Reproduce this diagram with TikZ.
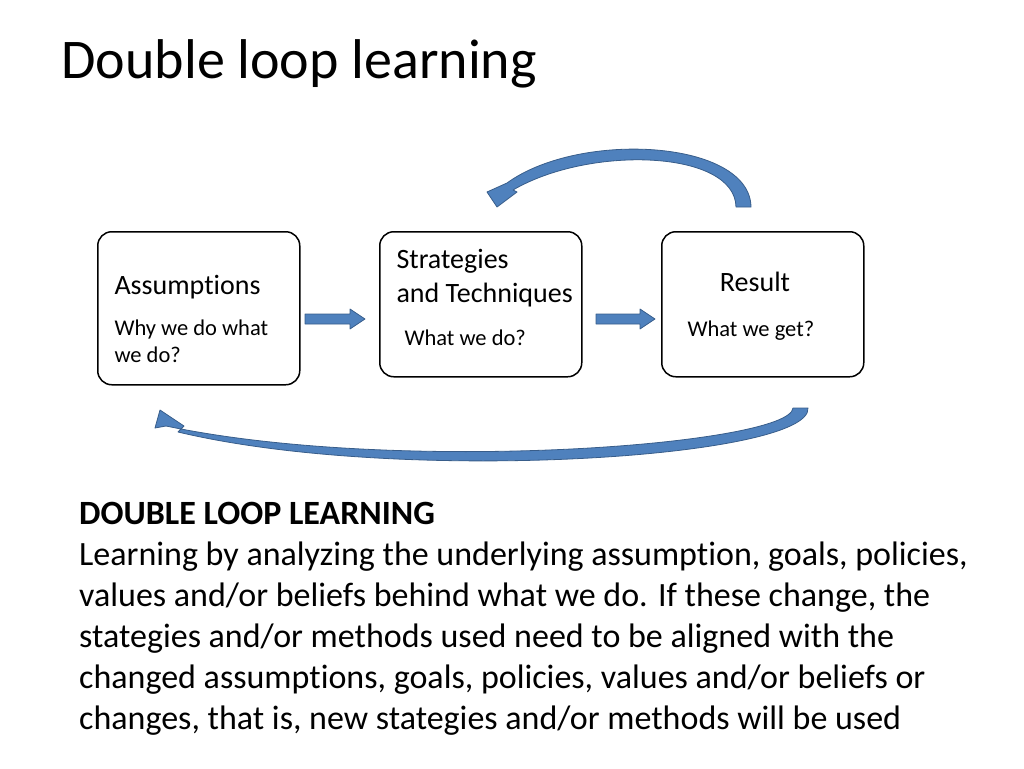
\documentclass[tikz,border=0pt]{standalone}
\usepackage{fontspec}
\setmainfont{Carlito}[Ligatures={NoCommon}]
\definecolor{arrowfill}{RGB}{79,129,189}
\definecolor{arrowline}{RGB}{56,93,138}
\begin{document}
\begin{tikzpicture}[
  x=1pt, y=-1pt,
  stagebox/.style={draw, line width=1.5pt, rounded corners=14pt, minimum width=202pt, anchor=north west},
  blockarrow/.style={fill=arrowfill, draw=arrowline, line width=0.8pt, line join=round}
]
\useasboundingbox (0,0) rectangle (1024,768);
\node [anchor=west, font=\fontsize{56}{60}\selectfont] (title) at (58,64) {Double loop learning};

\node [stagebox, minimum height=153pt] (assume) at (97,231) {};
\node [stagebox, minimum height=145pt] (strat) at (379,231) {};
\node [stagebox, minimum height=145pt] (result) at (661,231) {};

\node [anchor=west, font=\fontsize{28}{30}\selectfont] at (111,287) {Assumptions};
\node [anchor=north west, align=left, font=\fontsize{22.5}{27}\selectfont] at (111,316) {Why we do what\\we do?};
\node [anchor=north west, align=left, font=\fontsize{28}{34}\selectfont] at (393,246) {Strategies\\and Techniques};
\node [anchor=west, font=\fontsize{22.5}{25}\selectfont] at (401,338) {What we do?};
\node [anchor=center, font=\fontsize{28}{30}\selectfont] at (755,282) {Result};
\node [anchor=west, font=\fontsize{22.5}{25}\selectfont] at (684,331) {What we get?};

% straight arrows between the stages
\path [blockarrow] (305,314) -- (350,314) -- (350,309) -- (365,319) -- (350,329) -- (350,324) -- (305,324) -- cycle;
\path [blockarrow] (596,314) -- (640,314) -- (640,309) -- (655,319) -- (640,329) -- (640,324) -- (596,324) -- cycle;

% loop back to strategies
\path [blockarrow] (751,207) .. controls (750,140) and (580,130) .. (507,183) -- (487,192) -- (497,207) -- (517,192) -- (513,190) .. controls (590,145) and (735,150) .. (736,207) -- cycle;

% loop back to assumptions
\path [blockarrow] (808,408) .. controls (812,458) and (400,485) .. (178,432) -- (184,426) -- (160,410) -- (155,428) -- (166,426) .. controls (400,475) and (790,445) .. (793,408) -- cycle;

\node [anchor=north west, align=left, inner sep=0pt, font=\fontsize{34}{41}\selectfont] (text) at (79,502)
 {\textbf{DOUBLE LOOP LEARNING}\\
  Learning by analyzing the underlying assumption, goals, policies,\\
  values and/or beliefs behind what we do. If these change, the\\
  stategies and/or methods used need to be aligned with the\\
  changed assumptions, goals, policies, values and/or beliefs or\\
  changes, that is, new stategies and/or methods will be used};
\end{tikzpicture}
\end{document}
